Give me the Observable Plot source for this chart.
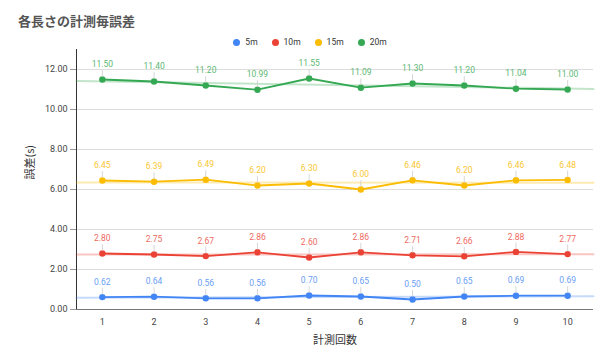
<!DOCTYPE html>
<html>
<head>
<meta charset="utf-8">
<script src="https://cdn.jsdelivr.net/npm/d3@7"></script>
<script src="https://cdn.jsdelivr.net/npm/@observablehq/plot@0.6"></script>
<style>
  html, body { margin: 0; padding: 0; background: #fff; }
  #wrap { position: relative; width: 612px; height: 360px; font-family: Roboto, "Noto Sans CJK JP", sans-serif; }
  #title { position: absolute; left: 18px; top: 11px; font-size: 13px; font-weight: bold; color: #555; font-family: "Noto Sans CJK JP", sans-serif; }
  #legend { position: absolute; top: 37px; left: 0; width: 612px; display: flex; justify-content: center; padding-left: 8px; box-sizing: border-box; font-size: 8.5px; color: #333; }
  #legend span.item { display: inline-flex; align-items: center; margin: 0 7px; }
  #legend span.dot { display: inline-block; width: 7px; height: 7px; border-radius: 50%; margin-right: 5px; }
  #chart { position: absolute; left: 0; top: 0; }
</style>
</head>
<body>
<div id="wrap">
  <div id="chart"></div>
  <div id="title"></div>
  <div id="legend"></div>
</div>
<script>
const title = "各長さの計測毎誤差";
const xLabel = "計測回数";
const yLabel = "誤差(s)";
const trials = [1, 2, 3, 4, 5, 6, 7, 8, 9, 10];
const seriesNames = ["5m", "10m", "15m", "20m"];
const seriesColors = ["#4285F4", "#EA4335", "#FBBC04", "#34A853"];
const labelColors = ["#6a9ef5", "#ee6a5f", "#fbc733", "#5cb874"];
const values5m  = [0.62, 0.64, 0.56, 0.56, 0.70, 0.65, 0.50, 0.65, 0.69, 0.69];
const values10m = [2.80, 2.75, 2.67, 2.86, 2.60, 2.86, 2.71, 2.66, 2.88, 2.77];
const values15m = [6.45, 6.39, 6.49, 6.20, 6.30, 6.00, 6.46, 6.20, 6.46, 6.48];
const values20m = [11.50, 11.40, 11.20, 10.99, 11.55, 11.09, 11.30, 11.20, 11.04, 11.00];
const yTicks = [0, 2, 4, 6, 8, 10, 12];

const allValues = [values5m, values10m, values15m, values20m];
const data = [];
seriesNames.forEach((s, i) => trials.forEach((t, j) => data.push({series: s, x: t, y: allValues[i][j]})));

const xDomain = [0.5, 10.5];
// linear regression trendlines across the whole axis
const trend = [];
seriesNames.forEach((s, i) => {
  const ys = allValues[i];
  const mx = d3.mean(trials), my = d3.mean(ys);
  const b = d3.sum(trials, (t, j) => (t - mx) * (ys[j] - my)) / d3.sum(trials, t => (t - mx) ** 2);
  const a = my - b * mx;
  xDomain.forEach(x => trend.push({series: s, x, y: a + b * x}));
});

document.getElementById("title").textContent = title;
const leg = document.getElementById("legend");
seriesNames.forEach((s, i) => {
  const item = document.createElement("span");
  item.className = "item";
  item.innerHTML = `<span class="dot" style="background:${seriesColors[i]}"></span>${s}`;
  leg.appendChild(item);
});

const stem = { draw(context, l) { context.moveTo(0, -3); context.lineTo(0, -l); } };

const plot = Plot.plot({
  width: 612,
  height: 360,
  marginTop: 49,
  marginBottom: 51,
  marginLeft: 76,
  marginRight: 19,
  style: { fontFamily: "Roboto, 'Noto Sans CJK JP', sans-serif", fontSize: "9px", color: "#444", background: "transparent" },
  x: { domain: xDomain, ticks: trials, tickFormat: d => String(d), tickSize: 0, label: null },
  y: { domain: [0, 13], ticks: yTicks, tickFormat: d => d.toFixed(2), label: null },
  color: { domain: seriesNames, range: seriesColors },
  marks: [
    Plot.gridY(yTicks, { stroke: "#ddd", strokeOpacity: 1, strokeWidth: 1 }),
    Plot.axisY({ ticks: yTicks, tickFormat: d => d.toFixed(2), tickSize: 6, tickPadding: 3, stroke: "#999", fill: "#444", fontSize: 9 }),
    Plot.axisX({ ticks: trials, tickFormat: d => String(d), tickSize: 0, tickPadding: 9, fill: "#444", fontSize: 9 }),
    Plot.ruleY([0], { stroke: "#777", strokeWidth: 1 }),
    Plot.ruleX([xDomain[0]], { stroke: "#333", strokeWidth: 1 }),
    Plot.line(trend, { x: "x", y: "y", z: "series", stroke: "series", strokeWidth: 2, strokeOpacity: 0.3 }),
    Plot.line(data, { x: "x", y: "y", z: "series", stroke: "series", strokeWidth: 1.8 }),
    Plot.dot(data, { x: "x", y: "y", fill: "series", r: 3.2 }),
    Plot.vector(data, { x: "x", y: "y", length: 9, anchor: "start", rotate: 0, shape: stem, stroke: "#ccc", strokeWidth: 0.8 }),
    Plot.text(data, { x: "x", y: "y", text: d => d.y.toFixed(2), dy: -15, fill: d => labelColors[seriesNames.indexOf(d.series)], fontSize: 8.5 }),
    Plot.text([xLabel], { frameAnchor: "bottom", dy: 34, fill: "#333", fontSize: 11, fontFamily: "'Noto Sans CJK JP', sans-serif" }),
    Plot.text([yLabel], { frameAnchor: "left", dx: -46, rotate: -90, fill: "#333", fontSize: 11, fontFamily: "'Noto Sans CJK JP', sans-serif" })
  ]
});
document.getElementById("chart").appendChild(plot);
</script>
</body>
</html>
